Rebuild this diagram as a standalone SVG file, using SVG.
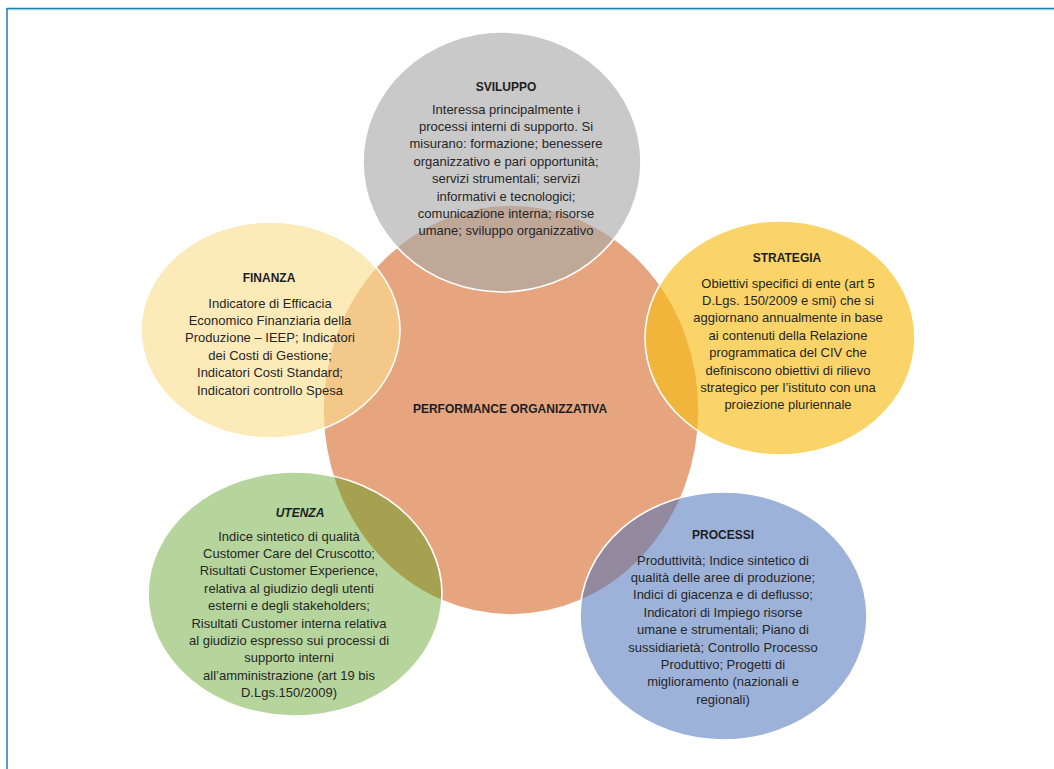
<svg xmlns="http://www.w3.org/2000/svg" width="1054" height="769" viewBox="0 0 1054 769">
<style>
.c{stroke:#ffffff;stroke-width:1.6}
.t{font-family:"Liberation Sans",Arial,sans-serif;font-size:13px;fill:#262626;text-anchor:middle}
.h{font-family:"Liberation Sans",Arial,sans-serif;font-size:12px;font-weight:bold;fill:#1e1e1e;text-anchor:middle}
</style>
<rect x="0" y="0" width="1054" height="769" fill="#ffffff"/>
<g id="frame">
<line x1="7" y1="8.5" x2="1054" y2="8.5" stroke="#1a7eac" stroke-width="1.5"/>
<line x1="7" y1="9.8" x2="1054" y2="9.8" stroke="#9fcde0" stroke-width="1"/>
<line x1="7" y1="8" x2="7" y2="769" stroke="#1a7eac" stroke-width="1.5"/>
</g>
<g id="connectors"></g>
<g id="performance">
<ellipse class="c" cx="511" cy="410" rx="188" ry="205" fill="#e6a57e"/>
<text class="h" x="510" y="413" font-size="13.3">PERFORMANCE ORGANIZZATIVA</text>
</g>
<g id="sviluppo">
<ellipse class="c" cx="502" cy="162" rx="139" ry="130" fill="#aaaaaa" fill-opacity="0.63"/>
<text class="h" x="506" y="91">SVILUPPO</text>
<text class="t" x="506" y="113.5">Interessa principalmente i</text>
<text class="t" x="506" y="130.9">processi interni di supporto. Si</text>
<text class="t" x="506" y="148.3">misurano: formazione; benessere</text>
<text class="t" x="506" y="165.7">organizzativo e pari opportunità;</text>
<text class="t" x="506" y="183.1">servizi strumentali; servizi</text>
<text class="t" x="506" y="200.5">informativi e tecnologici;</text>
<text class="t" x="506" y="217.9">comunicazione interna; risorse</text>
<text class="t" x="506" y="235.3">umane; sviluppo organizzativo</text>
</g>
<g id="finanza">
<ellipse class="c" cx="270.5" cy="330" rx="129.5" ry="108" fill="#fcdd8e" fill-opacity="0.62"/>
<text class="h" x="269" y="282">FINANZA</text>
<text class="t" x="270" y="307.5">Indicatore di Efficacia</text>
<text class="t" x="270" y="324.9">Economico Finanziaria della</text>
<text class="t" x="270" y="342.3">Produzione – IEEP;  Indicatori</text>
<text class="t" x="270" y="359.7">dei Costi di Gestione;</text>
<text class="t" x="270" y="377.1">Indicatori Costi Standard;</text>
<text class="t" x="270" y="394.5">Indicatori controllo Spesa</text>
</g>
<g id="strategia">
<ellipse class="c" cx="780" cy="338" rx="135" ry="117" fill="#f8bd1a" fill-opacity="0.66"/>
<text class="h" x="787" y="262">STRATEGIA</text>
<text class="t" x="788" y="287.5">Obiettivi specifici di ente (art 5</text>
<text class="t" x="788" y="304.9">D.Lgs. 150/2009 e smi) che si</text>
<text class="t" x="788" y="322.3">aggiornano annualmente in base</text>
<text class="t" x="788" y="339.7">ai contenuti della Relazione</text>
<text class="t" x="788" y="357.1">programmatica del CIV che</text>
<text class="t" x="788" y="374.5">definiscono obiettivi di rilievo</text>
<text class="t" x="788" y="391.9">strategico per l’istituto con una</text>
<text class="t" x="788" y="409.3">proiezione pluriennale</text>
</g>
<g id="utenza">
<ellipse class="c" cx="295" cy="594" rx="147" ry="122" fill="#4f9b13" fill-opacity="0.42"/>
<text class="h" x="300" y="517" font-style="italic">UTENZA</text>
<text class="t" x="289" y="540.5">Indice sintetico di qualità</text>
<text class="t" x="289" y="557.9">Customer Care del Cruscotto;</text>
<text class="t" x="289" y="575.3">Risultati Customer Experience,</text>
<text class="t" x="289" y="592.7">relativa al giudizio degli utenti</text>
<text class="t" x="289" y="610.1">esterni e degli stakeholders;</text>
<text class="t" x="289" y="627.5">Risultati Customer interna relativa</text>
<text class="t" x="289" y="644.9">al giudizio espresso sui processi di</text>
<text class="t" x="289" y="662.3">supporto interni</text>
<text class="t" x="289" y="679.7">all’amministrazione (art 19 bis</text>
<text class="t" x="289" y="697.1">D.Lgs.150/2009)</text>
</g>
<g id="processi">
<ellipse class="c" cx="723.5" cy="616" rx="143.5" ry="124" fill="#4c73b8" fill-opacity="0.55"/>
<text class="h" x="723" y="539">PROCESSI</text>
<text class="t" x="723" y="564.5">Produttività; Indice sintetico di</text>
<text class="t" x="723" y="581.9">qualità delle aree di produzione;</text>
<text class="t" x="723" y="599.3">Indici di giacenza e di deflusso;</text>
<text class="t" x="723" y="616.7">Indicatori di Impiego risorse</text>
<text class="t" x="723" y="634.1">umane e strumentali; Piano di</text>
<text class="t" x="723" y="651.5">sussidiarietà; Controllo Processo</text>
<text class="t" x="723" y="668.9">Produttivo; Progetti di</text>
<text class="t" x="723" y="686.3">miglioramento (nazionali e</text>
<text class="t" x="723" y="703.7">regionali)</text>
</g>
</svg>
